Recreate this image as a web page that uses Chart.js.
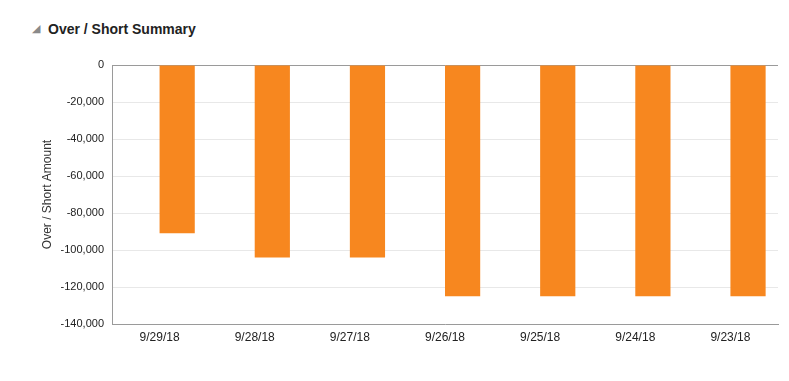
<!DOCTYPE html>
<html>
<head>
<meta charset="utf-8">
<script src="https://cdn.jsdelivr.net/npm/chart.js@4/dist/chart.umd.min.js"></script>
<style>
html,body{margin:0;padding:0;background:#fff;}
#wrap{position:relative;width:789px;height:381px;overflow:hidden;}
#title{position:absolute;left:48px;top:20px;font-family:"Liberation Sans",Arial,sans-serif;font-weight:bold;font-size:14px;color:#222;line-height:18px;}
#tri{position:absolute;left:32px;top:22px;font-family:"DejaVu Sans",sans-serif;font-size:11px;color:#8a8a8a;line-height:13px;}
canvas{position:absolute;left:0;top:0;}
</style>
</head>
<body>
<div id="wrap">
<div id="tri">◢</div>
<div id="title">Over / Short Summary</div>
<canvas id="c" width="789" height="381"></canvas>
</div>
<script>
const categories = ["9/29/18","9/28/18","9/27/18","9/26/18","9/25/18","9/24/18","9/23/18"];
const overShort = [-91000,-104000,-104000,-125000,-125000,-125000,-125000];
const emptySeries = [null,null,null,null,null,null,null];
const yTitle = "Over / Short Amount";

new Chart(document.getElementById('c'), {
  type: 'bar',
  data: {
    labels: categories,
    datasets: [
      {label: '', data: emptySeries, backgroundColor: 'rgba(0,0,0,0)'},
      {label: 'Over / Short', data: overShort, backgroundColor: '#f7871f', borderWidth: 0}
    ]
  },
  options: {
    responsive: false,
    animation: false,
    devicePixelRatio: 1,
    layout: {padding: {top: 65, right: 11, bottom: 0, left: 0}},
    plugins: {legend: {display: false}, tooltip: {enabled: false}},
    datasets: {bar: {categoryPercentage: 0.74, barPercentage: 1.0}},
    scales: {
      x: {
        grid: {display: false, drawTicks: false},
        border: {display: true, color: '#9a9a9a'},
        ticks: {color: '#222', font: {family: '"Liberation Sans", Arial, sans-serif', size: 12}, padding: 6, maxRotation: 0},
        afterFit: s => { s.height = 57; }
      },
      y: {
        min: -140000, max: 0,
        ticks: {stepSize: 20000, color: '#222', padding: 8,
          font: {family: '"Liberation Sans", Arial, sans-serif', size: 11},
          callback: v => v.toLocaleString('en-US')},
        grid: {drawTicks: false, color: ctx => ctx.tick && ctx.tick.value === 0 ? '#9a9a9a' : '#e8e8e8'},
        border: {display: true, color: '#9a9a9a'},
        title: {display: true, text: yTitle, color: '#333', font: {family: '"Liberation Sans", Arial, sans-serif', size: 12}, padding: {top: 40, bottom: 0}},
        afterFit: s => { s.width = 112; }
      }
    }
  }
});
</script>
</body>
</html>
